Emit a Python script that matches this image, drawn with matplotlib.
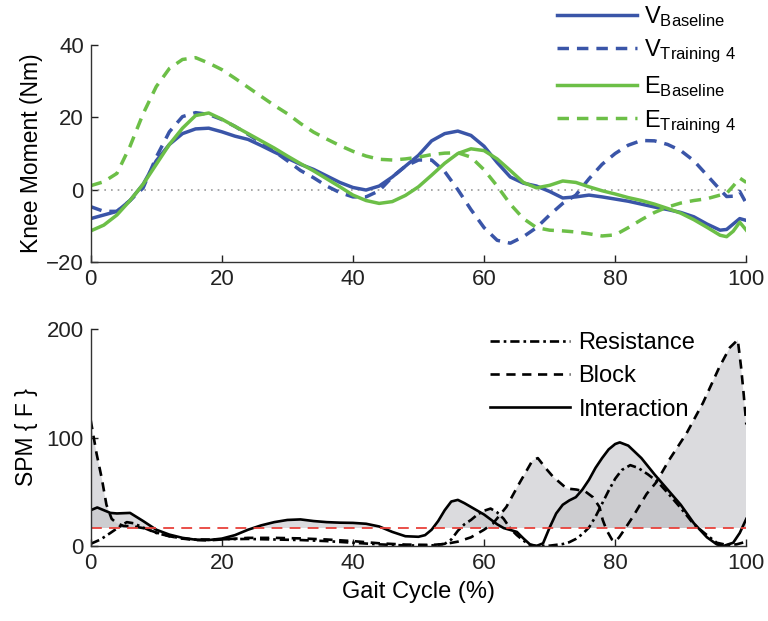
import matplotlib
matplotlib.use('Agg')
import matplotlib.pyplot as plt
import numpy as np

plt.rcParams['font.family'] = ['Liberation Sans', 'DejaVu Sans']
plt.rcParams['mathtext.default'] = 'regular'

# ---- knee moment curves (top panel) ----
x_top = [0, 2, 4, 6, 8, 10, 12, 14, 16, 18, 20, 22, 24, 26, 28, 30, 32, 34, 36, 38,
         40, 42, 44, 46, 48, 50, 52, 54, 56, 58, 60, 62, 64, 66, 68, 70, 72, 74, 76, 78,
         80, 82, 84, 86, 88, 90, 92, 94, 96, 97, 98, 99, 100]

v_baseline = [-8, -7, -6, -3, 1.5, 8, 12.5, 15.5, 16.8, 17, 16, 14.8, 13.9, 12.2, 10.4, 8.7, 7, 5.6, 3.8, 2,
              0.6, -0.1, 1, 3.5, 6.5, 9.5, 13.5, 15.5, 16.2, 15, 12, 7.5, 3.5, 1.8, 1.0, -0.5, -2.3, -2, -1.5, -2,
              -2.6, -3.2, -4, -4.8, -5.5, -6.3, -7.5, -9.5, -11.2, -11, -9.5, -8, -8.5]

v_training4 = [-4.7, -6, -6, -3, 0.5, 9, 16, 20.2, 21.3, 20.8, 19.4, 17.5, 15.3, 13, 10.6, 8, 5.3, 3.3, 1, -0.8,
               -2, -2, -0.3, 3.5, 6.5, 8.2, 8.2, 5, 0, -5.5, -10.5, -14, -14.8, -13, -10.5, -7, -3.8, -1.5, 3, 7,
               10, 12.3, 13.6, 13.5, 12.5, 10.8, 8, 4, 0, -1.9, -1.8, -0.5, -3.8]

e_baseline = [-11.4, -9.8, -7, -3, 1.5, 7, 12.5, 17, 20.5, 21.2, 19.5, 17.5, 15.5, 13.5, 11.5, 9.3, 7.2, 5.2, 3, 0.8,
              -1.5, -3, -3.8, -3.3, -1.6, 0.8, 4, 7.3, 10, 11.3, 10.8, 8.5, 5.3, 2, 0.5, 1.2, 2.4, 2, 0.8, -0.3,
              -1.2, -2.2, -3.0, -4, -5.2, -6.5, -8.3, -10.4, -12.6, -13, -11.5, -9, -11.2]

e_training4 = [1.1, 2.2, 4.5, 12, 21, 28.5, 33.5, 36, 36.5, 35, 33.2, 30.8, 28.3, 25.8, 23.3, 21, 18.3, 15.9, 14, 12.2,
               10.6, 9.3, 8.4, 8.2, 8.5, 9, 9.7, 10.1, 10.2, 9, 5.5, 1, -4, -8, -10.5, -11.2, -11.4, -11.7, -12.2, -12.8,
               -12.5, -10.5, -8.3, -6.3, -4.8, -3.7, -3.0, -2.5, -1.5, -1, 1, 3.2, 2]

# ---- SPM{F} curves (bottom panel) ----
x_res = [0, 1.5, 3, 4.2, 5.5, 6.5, 8, 10, 12, 14, 16, 18, 20, 24, 28, 32, 36, 40, 44, 48,
         52, 54, 55, 56, 57, 58, 59, 60, 61, 62, 63, 64, 65, 66, 67, 68, 70, 72, 73, 74,
         75, 76, 77, 78, 79, 80, 81, 82.3, 83.5, 85, 86.5, 88, 90, 92, 94, 95.5, 97, 98.5, 100]
resistance = [2, 6, 12, 17, 22, 21, 17, 12, 9, 7, 6, 6, 6.2, 6.5, 6, 5.5, 4.5, 3, 1.5, 0.5,
              0.5, 2, 6, 14, 20, 24, 29, 32.5, 34.5, 31, 25, 16, 10, 5, 1, 0, 0.3, 1.8, 3.5, 6.5,
              11, 17, 27, 39, 51, 62, 70, 74.5, 72, 66, 59, 49, 35, 20, 10, 3, 1, 1.5, 4]

x_blk = [0, 0.9, 1.7, 2.4, 3.2, 4, 5, 6.5, 8, 10, 12, 14, 16, 18, 20, 24, 28, 32, 36, 40,
         44, 48, 52, 54, 56, 58, 60, 61.4, 63.4, 65.4, 67.4, 68.2, 69.5, 70.5, 72.6, 74.1, 75.5, 76.6, 77.6, 78.1,
         78.7, 79.5, 80, 80.6, 81.4, 82.7, 84.8, 86.3, 88.2, 90.9, 93.4, 95.9, 97.5, 98.7, 99.2, 99.6, 100]
block = [116, 85, 62, 38, 25, 21, 18.5, 18, 16.5, 12.5, 9, 6.8, 5.5, 5.2, 6, 7.5, 7.5, 7, 6, 4.5,
         2.5, 1.3, 1, 1.8, 4, 8, 15, 21, 36, 58, 79, 81, 71, 64, 53, 52, 50, 45, 36, 24,
         14.5, 6, 4, 8, 15, 27, 48, 59, 79, 104, 132, 165, 183, 190, 165, 140, 112]

x_int = [0, 1, 2, 3, 4, 6, 8, 10, 12, 14, 16, 18, 20, 22, 24, 26, 28, 30, 32, 34,
         36, 38, 40, 42, 44, 46, 48, 50, 51, 52, 53, 54, 55, 56, 57, 58, 60, 62, 63, 64,
         65, 66, 67, 68, 69, 70, 71, 72, 73, 74, 75, 76, 77, 78, 79, 80, 80.7, 82, 84, 86,
         88, 90, 92, 94, 95.5, 96.5, 98, 99, 100]
interaction = [33, 35.5, 33, 30.5, 30, 30.5, 23, 15, 10.5, 7.5, 5.8, 5.5, 6.8, 10, 15, 19, 22, 24, 24.5, 23,
               22, 21.5, 21.3, 20.5, 18, 13, 9, 8.5, 10, 15, 23, 33, 41, 42.5, 39.5, 36, 29, 20, 16.5, 14.8,
               13, 7, 1.5, 0, 2.5, 17, 30, 38, 42, 45, 52, 61, 72, 81, 89, 94, 95.5, 92.5, 81, 66,
               52, 38, 21, 8, 1.5, 0, 3, 12, 25]

threshold = 16.6

blue = '#3a55a8'
green = '#6cbf47'

fig = plt.figure(figsize=(7.68, 6.21), dpi=100)
W, H = 768, 621
FS = 16


def px_axes(left, top, right, bottom):
    return fig.add_axes([left / W, 1 - bottom / H, (right - left) / W, (bottom - top) / H])


def style(ax):
    for s in ['top', 'right']:
        ax.spines[s].set_visible(False)
    for s in ['left', 'bottom']:
        ax.spines[s].set_linewidth(1.0)
        ax.spines[s].set_color('#333333')
    ax.tick_params(direction='in', length=5, width=1, labelsize=FS, colors='#222222', pad=5)


# ---------------- top panel ----------------
ax1 = px_axes(90.7, 45, 746.3, 262)
ax1.axhline(0, color='#999999', lw=1.2, ls=(0, (1, 3)))
lw = 2.5
ax1.plot(x_top, v_baseline, color=blue, lw=lw, label=r'V$_{Baseline}$')
ax1.plot(x_top, v_training4, color=blue, lw=lw, dashes=(3.3, 2.3), label=r'V$_{Training\ 4}$')
ax1.plot(x_top, e_baseline, color=green, lw=lw, label=r'E$_{Baseline}$')
ax1.plot(x_top, e_training4, color=green, lw=lw, dashes=(3.3, 2.3), label=r'E$_{Training\ 4}$')
ax1.set_xlim(0, 100)
ax1.set_ylim(-20, 40)
ax1.set_xticks([0, 20, 40, 60, 80, 100])
ax1.set_yticks([-20, 0, 20, 40])
ax1.set_ylabel('Knee Moment (Nm)', fontsize=16.5, labelpad=2)
style(ax1)
leg1 = ax1.legend(loc='upper left', bbox_to_anchor=(557 / W, 1 - 4 / H),
                  bbox_transform=fig.transFigure, frameon=False, fontsize=17,
                  handlelength=3.4, handletextpad=0.3, labelspacing=0.38,
                  borderpad=0, borderaxespad=0)

# ---------------- bottom panel ----------------
ax2 = px_axes(90.7, 329, 746.3, 546)
fill_kw = dict(color='#c4c4c8', alpha=0.6, lw=0, interpolate=True)
lw2 = 1.9
xr, yr = np.array(x_res), np.array(resistance)
xb, yb = np.array(x_blk), np.array(block)
xi, yi = np.array(x_int), np.array(interaction)

ax2.plot(xr, yr, color='black', lw=lw2, dashes=(3.5, 1.5, 1, 1.5), label='Resistance')
ax2.fill_between(xr, threshold, yr, where=yr > threshold, **fill_kw)
ax2.plot(xb, yb, color='black', lw=lw2, dashes=(3.5, 2.5), label='Block')
ax2.fill_between(xb, threshold, yb, where=yb > threshold, **fill_kw)
ax2.plot(xi, yi, color='black', lw=lw2, label='Interaction')
ax2.fill_between(xi, threshold, yi, where=yi > threshold, **fill_kw)
ax2.axhline(threshold, color='#e8413a', lw=1.3, dashes=(6, 4))

ax2.set_xlim(0, 100)
ax2.set_ylim(0, 200)
ax2.set_xticks([0, 20, 40, 60, 80, 100])
ax2.set_yticks([0, 100, 200])
ax2.set_ylabel('SPM { F }', fontsize=16.5, labelpad=6)
ax2.set_xlabel('Gait Cycle (%)', fontsize=17, labelpad=5)
style(ax2)
handles, labels = ax2.get_legend_handles_labels()
leg2 = ax2.legend(handles[:3], labels[:3], loc='upper left', bbox_to_anchor=(490 / W, 1 - 332 / H),
                  bbox_transform=fig.transFigure, frameon=False, fontsize=17,
                  handlelength=3.4, handletextpad=0.35, labelspacing=0.48,
                  borderpad=0, borderaxespad=0)

fig.savefig('out.png', dpi=100)
